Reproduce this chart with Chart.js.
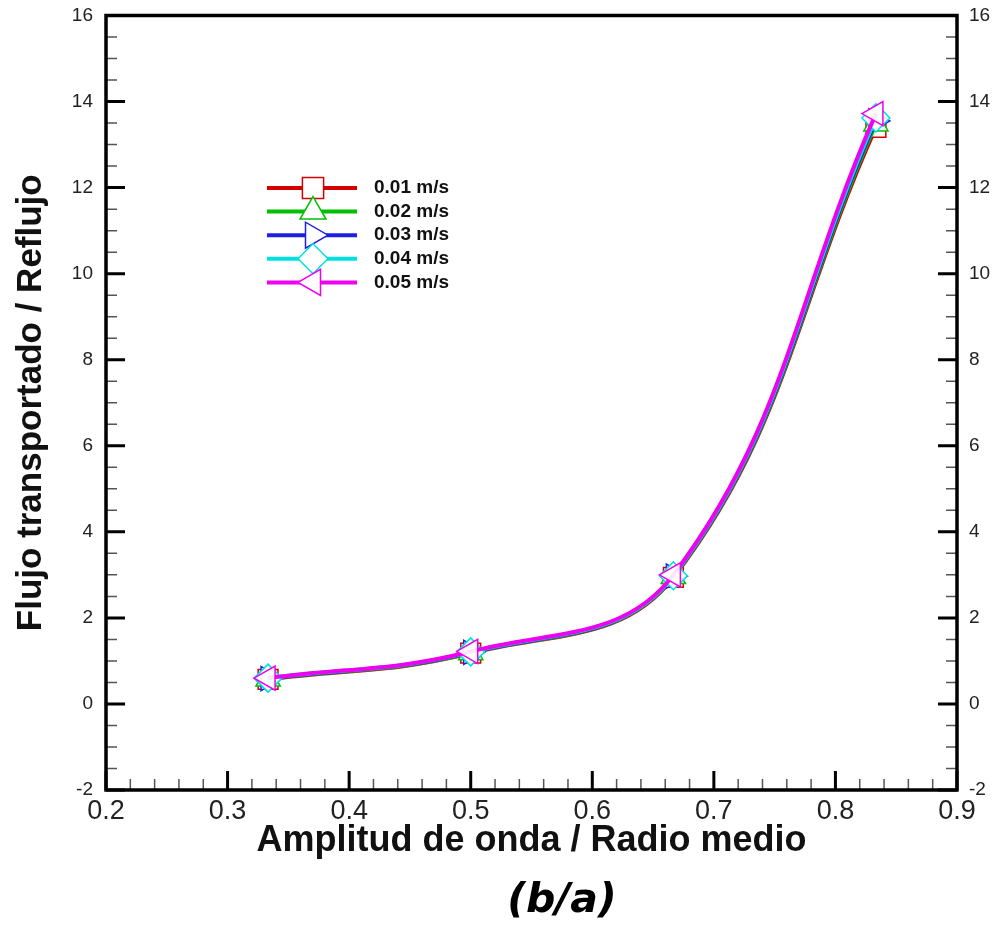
<!DOCTYPE html>
<html>
<head>
<meta charset="utf-8">
<script src="https://cdn.jsdelivr.net/npm/chart.js@4/dist/chart.umd.min.js"></script>
<style>
  body { margin:0; background:#fff; }
  #wrap { width:993px; height:926px; position:relative; }
</style>
</head>
<body>
<div id="wrap"><canvas id="grafica"></canvas></div>
<script>
// datos
var amplitud = [0.3333, 0.5, 0.6667, 0.8333];
var flujo001 = [0.57, 1.18, 2.94, 13.40];
var flujo002 = [0.58, 1.19, 2.96, 13.48];
var flujo003 = [0.59, 1.20, 2.97, 13.55];
var flujo004 = [0.60, 1.21, 2.98, 13.62];
var flujo005 = [0.60, 1.22, 3.00, 13.72];
var etiquetas = ["0.01 m/s", "0.02 m/s", "0.03 m/s", "0.04 m/s", "0.05 m/s"];
var colores = ["#d40000", "#00c000", "#2020e0", "#00e0e0", "#f000f0"];
var ticksX = [0.2, 0.3, 0.4, 0.5, 0.6, 0.7, 0.8, 0.9];
var ticksY = [-2, 0, 2, 4, 6, 8, 10, 12, 14, 16];

var series = [flujo001, flujo002, flujo003, flujo004, flujo005];
var formas = [["rect", 0], ["triangle", 0], ["triangle", 90], ["rectRot", 0], ["triangle", -90]];

var datasets = [];
for (let i = 0; i < series.length; i++) {
    datasets.push({
        label: etiquetas[i],
        data: amplitud.map((x, j) => ({x: x, y: series[i][j]})),
        borderColor: colores[i],
        backgroundColor: "#ffffff",
        borderWidth: 4,
        tension: 0.4,
        pointStyle: formas[i][0],
        rotation: formas[i][1],
        pointRadius: 14,
        pointBorderWidth: 1.5,
        pointBorderColor: colores[i],
        pointBackgroundColor: "rgba(255,255,255,0.9)",
        order: 5 - i
    });
}

// marco, marcas hacia dentro, leyenda y (b/a)
var marco = {
    id: "marco",
    afterDraw(chart) {
        const ctx = chart.ctx;
        const a = chart.chartArea;
        const sx = chart.scales.x, sy = chart.scales.y;
        ctx.save();
        ctx.lineCap = "butt";
        // menores
        ctx.strokeStyle = "#555";
        ctx.lineWidth = 1.5;
        for (let v = -2; v <= 16.001; v += 0.5) {
            if (Math.abs(v - Math.round(v / 2) * 2) < 1e-6) continue;
            const py = sy.getPixelForValue(v);
            ctx.beginPath();
            ctx.moveTo(a.left, py); ctx.lineTo(a.left + 11, py);
            ctx.moveTo(a.right, py); ctx.lineTo(a.right - 11, py);
            ctx.stroke();
        }
        for (let k = 0; k <= 35; k++) {
            if (k % 5 === 0) continue;
            const px = sx.getPixelForValue(0.2 + k * 0.02);
            ctx.beginPath();
            ctx.moveTo(px, a.bottom); ctx.lineTo(px, a.bottom - 11);
            ctx.stroke();
        }
        // mayores
        ctx.strokeStyle = "#000";
        ctx.lineWidth = 3;
        ticksY.forEach(v => {
            const py = sy.getPixelForValue(v);
            ctx.beginPath();
            ctx.moveTo(a.left, py); ctx.lineTo(a.left + 19, py);
            ctx.moveTo(a.right, py); ctx.lineTo(a.right - 19, py);
            ctx.stroke();
        });
        ticksX.forEach(v => {
            const px = sx.getPixelForValue(v);
            ctx.beginPath();
            ctx.moveTo(px, a.bottom); ctx.lineTo(px, a.bottom - 19);
            ctx.stroke();
        });
        ctx.lineWidth = 3.5;
        ctx.strokeRect(a.left, a.top, a.right - a.left, a.bottom - a.top);

        // leyenda
        const x0 = 267, x1 = 357, xm = 313, xt = 374;
        chart.data.datasets.forEach((ds, i) => {
            const yy = 188 + i * 23.6;
            ctx.strokeStyle = ds.borderColor;
            ctx.lineWidth = 4;
            ctx.beginPath(); ctx.moveTo(x0, yy); ctx.lineTo(x1, yy); ctx.stroke();
            ctx.fillStyle = "#fff";
            ctx.strokeStyle = ds.borderColor;
            ctx.lineWidth = 1.5;
            Chart.helpers.drawPoint(ctx, {pointStyle: ds.pointStyle, rotation: ds.rotation, radius: 15, borderWidth: 1.5}, xm, yy);
            ctx.fillStyle = "#111";
            ctx.font = "bold 19px 'Liberation Sans', Arial, sans-serif";
            ctx.textBaseline = "middle";
            ctx.textAlign = "left";
            ctx.fillText(ds.label, xt, yy);
        });

        // (b/a)
        ctx.fillStyle = "#000";
        ctx.font = "italic bold 41px 'DejaVu Sans', sans-serif";
        ctx.textAlign = "center";
        ctx.textBaseline = "alphabetic";
        ctx.fillText("(b/a)", 562, 912);
        ctx.restore();
    }
};

var fuente = "'Liberation Sans', Arial, sans-serif";
var sinRelleno = s => { s.paddingTop = 0; s.paddingBottom = 0; };
var ctx = document.getElementById("grafica").getContext("2d");
var chart = new Chart(ctx, {
    type: "line",
    data: { datasets: datasets },
    options: {
        responsive: true,
        maintainAspectRatio: false,
        animation: false,
        layout: { padding: { top: 15, left: 0, right: 0, bottom: 63 } },
        plugins: {
            legend: { display: false },
            tooltip: { enabled: false }
        },
        scales: {
            x: {
                type: "linear",
                position: "bottom",
                min: 0.2, max: 0.9,
                grid: { display: false, drawTicks: false },
                border: { display: false },
                ticks: { stepSize: 0.1, padding: 5, color: "#222", font: { family: fuente, size: 27 } },
                title: { display: true, text: "Amplitud de onda / Radio medio", color: "#111",
                         font: { family: fuente, size: 36, weight: "bold" }, padding: { top: 0, bottom: 0 } },
                afterFit: s => { s.height = 73; s.paddingLeft = 0; s.paddingRight = 0; }
            },
            y: {
                type: "linear",
                position: "left",
                min: -2, max: 16,
                grid: { display: false, drawTicks: false },
                border: { display: false },
                ticks: { stepSize: 2, padding: 13, color: "#222", font: { family: fuente, size: 19 } },
                title: { display: true, text: "Flujo transportado / Reflujo", color: "#111",
                         font: { family: fuente, size: 35, weight: "bold" }, padding: { top: 10, bottom: 0 } },
                afterFit: s => { s.width = 106; sinRelleno(s); }
            },
            y2: {
                type: "linear",
                position: "right",
                min: -2, max: 16,
                grid: { display: false, drawTicks: false },
                border: { display: false },
                ticks: { stepSize: 2, padding: 12, color: "#222", font: { family: fuente, size: 19 } },
                afterFit: s => { s.width = 36; sinRelleno(s); }
            }
        }
    },
    plugins: [marco]
});
</script>
</body>
</html>
